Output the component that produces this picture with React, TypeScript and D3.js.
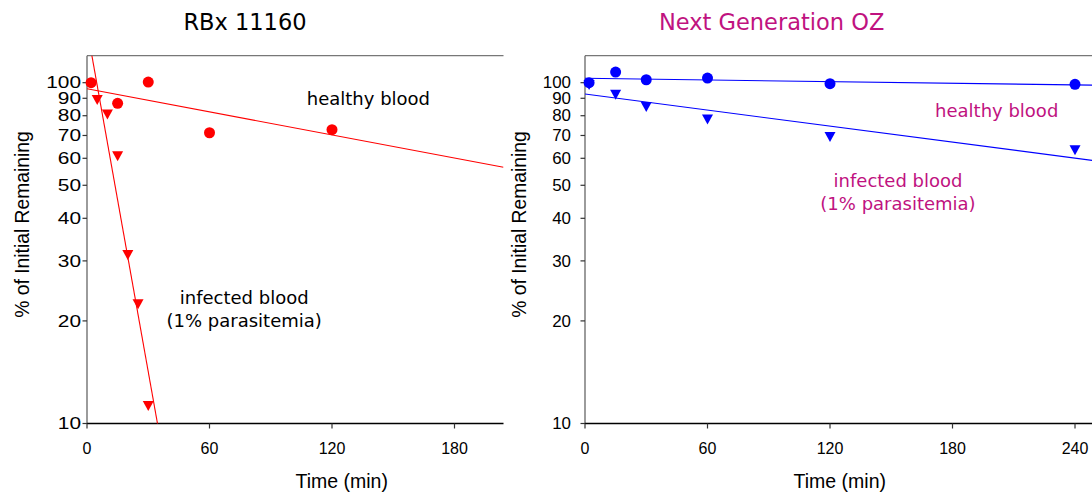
import React from 'react';
import * as d3 from 'd3';

// ---- data ----
const yTicks = [10, 20, 30, 40, 50, 60, 70, 80, 90, 100];
const leftXTicks = [0, 60, 120, 180];
const rightXTicks = [0, 60, 120, 180, 240];

const leftHealthyTime = [2, 15, 30, 60, 120];
const leftHealthyPct = [100, 87, 100.4, 71.3, 72.8];
const leftInfectedTime = [5, 10, 15, 20, 25, 30];
const leftInfectedPct = [88.9, 80.7, 60.8, 31.2, 22.4, 11.25];
// [percent at t=0, log10 slope per min]
const leftHealthyFit = [96, -0.00113];
const leftInfectedFit = [144.5, -0.0336];

const rightHealthyTime = [2, 15, 30, 60, 120, 240];
const rightHealthyPct = [100, 107.4, 102, 103.2, 99.3, 98.9];
const rightInfectedTime = [2, 15, 30, 60, 120, 240];
const rightInfectedPct = [98.5, 92.2, 84.8, 78, 69.3, 63.3];
const rightHealthyFit = [103, -0.0000805];
const rightInfectedFit = [92.6, -0.000783];

const AXIS_FONT = 'Liberation Sans, Arial, sans-serif';
const NOTE_FONT = 'DejaVu Sans, Verdana, sans-serif';
const MAGENTA = '#C0127F';

type PanelProps = {
  id: string;
  xMax: number;
  xRange: [number, number];
  xTicks: number[];
  color: string;
  healthyT: number[];
  healthyP: number[];
  infectedT: number[];
  infectedP: number[];
  healthyFit: number[];
  infectedFit: number[];
  yLabelEnd: number;
  yLabelSize: number;
  yDigitW: number;
  yTitleX: number;
  xTitleX: number;
  title: string;
  titleColor: string;
  titleX: number;
  noteColor: string;
  healthyNote: [number, number];
  infectedNote: [number, number];
};

const Panel = (p: PanelProps) => {
  const x = d3.scaleLinear().domain([0, p.xMax]).range(p.xRange);
  const y = d3.scaleLog().domain([10, 120]).range([423.5, 55.7]);
  const [x0, x1] = p.xRange;
  const yTop = y(120);
  const yBot = y(10);
  const fitLine = (fit: number[]) => {
    const pts = [0, p.xMax].map((t) => [t, fit[0] * Math.pow(10, fit[1] * t)]);
    return d3
      .line<number[]>()
      .x((d) => x(d[0]))
      .y((d) => y(d[1]))(pts) as string;
  };
  const tri = (cx: number, cy: number) => {
    const w = 11, h = 10;
    const path = d3.path();
    path.moveTo(cx - w / 2, cy - h / 2);
    path.lineTo(cx + w / 2, cy - h / 2);
    path.lineTo(cx, cy + h / 2);
    path.closePath();
    return path.toString();
  };
  return (
    <g>
      <defs>
        <clipPath id={`clip-${p.id}`}>
          <rect x={x0} y={yTop} width={x1 - x0} height={yBot - yTop} />
        </clipPath>
      </defs>
      {/* frame */}
      <line x1={x0} x2={x1} y1={yTop} y2={yTop} stroke="#777" strokeWidth={1.3} />
      <line x1={x0} x2={x0} y1={yTop} y2={yBot} stroke="#666" strokeWidth={1.3} />
      <line x1={x0} x2={x1} y1={yBot} y2={yBot} stroke="#000" strokeWidth={1.3} />
      {/* y ticks */}
      {yTicks.map((t) => (
        <g key={`y${t}`}>
          <line x1={x0 - 4.5} x2={x0} y1={y(t)} y2={y(t)} stroke="#333" strokeWidth={1.2} />
          <text
            x={p.yLabelEnd}
            y={y(t)}
            dy="0.36em"
            textAnchor="end"
            fontFamily={AXIS_FONT}
            fontSize={p.yLabelSize}
            textLength={String(t).length * p.yDigitW}
            lengthAdjust="spacingAndGlyphs"
            fill="#000"
          >
            {t}
          </text>
        </g>
      ))}
      {/* x ticks */}
      {p.xTicks.map((t) => (
        <g key={`x${t}`}>
          <line x1={x(t)} x2={x(t)} y1={yBot} y2={yBot + 5} stroke="#333" strokeWidth={1.2} />
          <text x={x(t)} y={454} textAnchor="middle" fontFamily={AXIS_FONT} fontSize={16} fill="#000">
            {t}
          </text>
        </g>
      ))}
      {/* axis titles */}
      <text x={p.xTitleX} y={487.5} textAnchor="middle" fontFamily={AXIS_FONT} fontSize={19.5} fill="#000">
        Time (min)
      </text>
      <text
        transform={`translate(${p.yTitleX},224.5) rotate(-90)`}
        textAnchor="middle"
        dy="0.35em"
        fontFamily={AXIS_FONT}
        fontSize={19.3}
        fill="#000"
      >
        % of Initial Remaining
      </text>
      {/* fit lines */}
      <g clipPath={`url(#clip-${p.id})`}>
        <path d={fitLine(p.healthyFit)} stroke={p.color} strokeWidth={1.1} fill="none" />
        <path d={fitLine(p.infectedFit)} stroke={p.color} strokeWidth={1.1} fill="none" />
      </g>
      {/* markers */}
      {p.infectedT.map((t, i) => (
        <path key={`i${i}`} d={tri(x(t), y(p.infectedP[i]))} fill={p.color} />
      ))}
      {p.healthyT.map((t, i) => (
        <circle key={`h${i}`} cx={x(t)} cy={y(p.healthyP[i])} r={5.5} fill={p.color} />
      ))}
      {/* title */}
      <text x={p.titleX} y={30} textAnchor="middle" fontFamily={NOTE_FONT} fontSize={22.5} fill={p.titleColor}>
        {p.title}
      </text>
      {/* notes */}
      <text
        x={p.healthyNote[0]}
        y={p.healthyNote[1]}
        textAnchor="middle"
        fontFamily={NOTE_FONT}
        fontSize={18}
        fill={p.noteColor}
      >
        healthy blood
      </text>
      <text textAnchor="middle" fontFamily={NOTE_FONT} fontSize={18} fill={p.noteColor}>
        <tspan x={p.infectedNote[0]} y={p.infectedNote[1]}>
          infected blood
        </tspan>
        <tspan x={p.infectedNote[0]} y={p.infectedNote[1] + 23}>
          (1% parasitemia)
        </tspan>
      </text>
    </g>
  );
};

export default function App() {
  return (
    <svg
      width={1092}
      height={496}
      viewBox="0 0 1092 496"
      style={{ position: 'absolute', left: 0, top: 0, background: '#fff' }}
    >
      <rect x={0} y={0} width={1092} height={496} fill="#fff" />
      <Panel
        id="L"
        xMax={204}
        xRange={[87, 503.5]}
        xTicks={leftXTicks}
        color="#FF0000"
        healthyT={leftHealthyTime}
        healthyP={leftHealthyPct}
        infectedT={leftInfectedTime}
        infectedP={leftInfectedPct}
        healthyFit={leftHealthyFit}
        infectedFit={leftInfectedFit}
        yLabelEnd={81}
        yLabelSize={16}
        yDigitW={11.6}
        yTitleX={22.5}
        xTitleX={341.7}
        title="RBx 11160"
        titleColor="#000"
        titleX={245}
        noteColor="#000"
        healthyNote={[368.4, 105]}
        infectedNote={[244.2, 304]}
      />
      <Panel
        id="R"
        xMax={260}
        xRange={[585, 585 + 260 * 2.0417]}
        xTicks={rightXTicks}
        color="#0000FF"
        healthyT={rightHealthyTime}
        healthyP={rightHealthyPct}
        infectedT={rightInfectedTime}
        infectedP={rightInfectedPct}
        healthyFit={rightHealthyFit}
        infectedFit={rightInfectedFit}
        yLabelEnd={571}
        yLabelSize={16}
        yDigitW={9.4}
        yTitleX={519}
        xTitleX={839.8}
        title="Next Generation OZ"
        titleColor={MAGENTA}
        titleX={771.7}
        noteColor={MAGENTA}
        healthyNote={[996.7, 116.7]}
        infectedNote={[898, 186.7]}
      />
    </svg>
  );
}
